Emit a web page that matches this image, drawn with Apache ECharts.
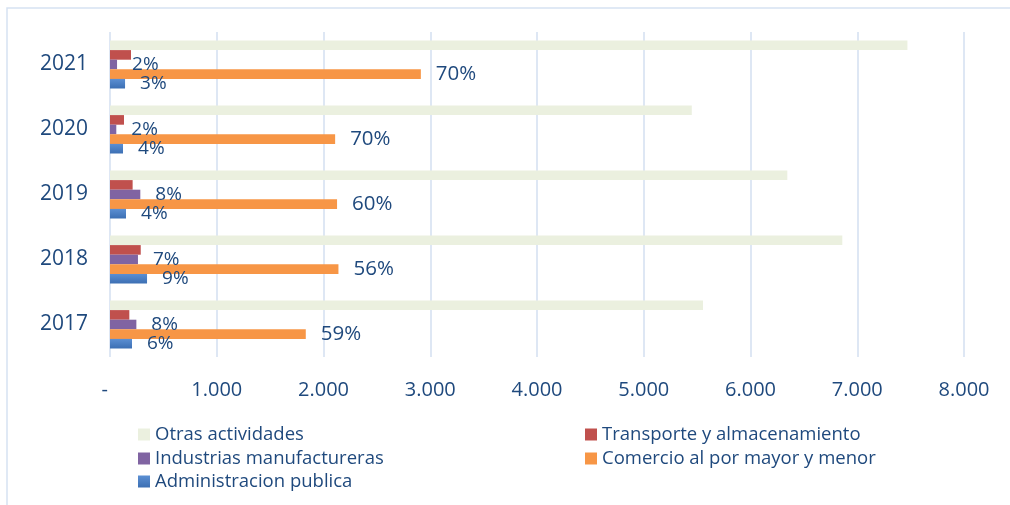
<!DOCTYPE html>
<html>
<head>
<meta charset="utf-8">
<script src="https://cdn.jsdelivr.net/npm/echarts@6/dist/echarts.min.js"></script>
<style>
  html, body { margin: 0; padding: 0; background: #fff; }
  #chart { width: 1010px; height: 505px; }
</style>
</head>
<body>
<div id="chart"></div>
<script>
// años (de abajo hacia arriba)
var years = ["2017", "2018", "2019", "2020", "2021"];

// valores
var otras = [5555, 6860, 6345, 5450, 7470];
var transporte = [181, 288, 212, 131, 197];
var industrias = [247, 262, 284, 59, 66];
var comercio = [1834, 2140, 2127, 2109, 2912];
var administracion = [206, 347, 150, 122, 141];

// etiquetas de porcentaje
var pctIndustrias = ["8%", "7%", "8%", "2%", "2%"];
var pctComercio = ["59%", "56%", "60%", "70%", "70%"];
var pctAdministracion = ["6%", "9%", "4%", "4%", "3%"];

var txt = "#1F497D";
var fuente = "Open Sans";

function pctLabel(arr, size) {
  return {
    show: true,
    position: "right",
    distance: 15,
    color: txt,
    fontFamily: fuente,
    fontSize: size,
    padding: [3, 0, 0, 0],
    formatter: function (p) {
      return arr[p.dataIndex];
    },
  };
}

function leyenda(name, left, top) {
  return {
    data: [{ name: name, icon: "rect" }],
    left: left,
    top: top,
    padding: 0,
    itemWidth: 12,
    itemHeight: 12,
    textStyle: { color: txt, fontFamily: fuente, fontSize: 18.5 },
  };
}

var option = {
  animation: false,
  backgroundColor: "#fff",
  graphic: [
    {
      type: "rect",
      shape: { x: 7, y: 8, width: 1020, height: 520 },
      style: { fill: "none", stroke: "#d6e2f2", lineWidth: 1.5 },
      silent: true,
    },
  ],
  legend: [
    leyenda("Otras actividades", 138, 425),
    leyenda("Transporte y almacenamiento", 585, 425),
    leyenda("Industrias manufactureras", 138, 449),
    leyenda("Comercio al por mayor y menor", 585, 449),
    leyenda("Administracion publica", 138, 472),
  ],
  grid: {
    left: 110,
    right: 46,
    top: 32,
    bottom: 148,
  },
  xAxis: {
    type: "value",
    min: 0,
    max: 8000,
    interval: 1000,
    axisLine: { show: false },
    axisTick: { show: false },
    splitLine: { show: true, lineStyle: { color: "#d3dff1", width: 1.5 } },
    axisLabel: {
      margin: 23,
      color: txt,
      fontFamily: fuente,
      fontSize: 20,
      formatter: function (v) {
        if (v === 0) return "-  ";
        return String(v).replace(/\B(?=(\d{3})+(?!\d))/g, ".");
      },
    },
  },
  yAxis: {
    type: "category",
    data: years,
    axisLine: { show: false },
    axisTick: { show: false },
    axisLabel: {
      margin: 22,
      color: txt,
      fontFamily: fuente,
      fontSize: 21,
      padding: [5, 0, 0, 0],
    },
  },
  series: [
    {
      name: "Otras actividades",
      type: "bar",
      data: otras,
      barWidth: 9.6,
      barGap: "0%",
      itemStyle: { color: "#ebf0df" },
    },
    {
      name: "Transporte y almacenamiento",
      type: "bar",
      data: transporte,
      barWidth: 9.6,
      barGap: "0%",
      itemStyle: { color: "#c0504d" },
    },
    {
      name: "Industrias manufactureras",
      type: "bar",
      data: industrias,
      barWidth: 9.6,
      barGap: "0%",
      itemStyle: { color: "#8064a2" },
      label: pctLabel(pctIndustrias, 19),
    },
    {
      name: "Comercio al por mayor y menor",
      type: "bar",
      data: comercio,
      barWidth: 9.6,
      barGap: "0%",
      itemStyle: { color: "#f79646" },
      label: pctLabel(pctComercio, 20.5),
    },
    {
      name: "Administracion publica",
      type: "bar",
      data: administracion,
      barWidth: 9.6,
      barGap: "0%",
      itemStyle: {
        color: new echarts.graphic.LinearGradient(0, 0, 0, 1, [
          { offset: 0, color: "#5b8fd3" },
          { offset: 1, color: "#3c6fb3" },
        ]),
      },
      label: pctLabel(pctAdministracion, 19),
    },
  ],
};

var myChart = echarts.init(document.getElementById("chart"));
myChart.setOption(option);
</script>
</body>
</html>
